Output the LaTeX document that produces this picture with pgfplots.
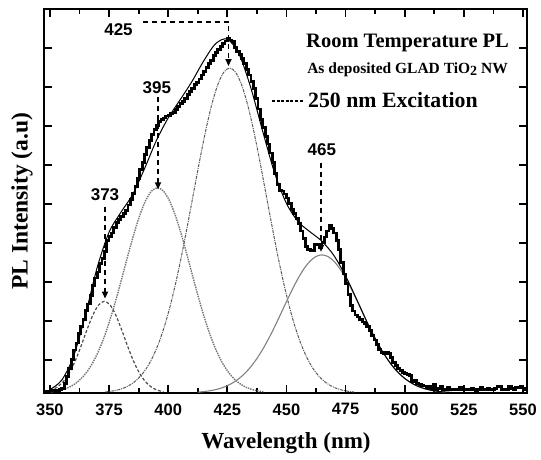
\documentclass[border=0pt]{standalone}
\usepackage{fontspec}
\setmainfont{Liberation Serif}
\setsansfont{Liberation Sans}
\usepackage{pgfplots}
\pgfplotsset{compat=1.18}
\usetikzlibrary{arrows.meta}

\begin{document}
\begin{tikzpicture}
\begin{axis}[
  scale only axis, width=483pt, height=383.5pt,
  xmin=347.5, xmax=551.7, ymin=0, ymax=9.83,
  xtick={350,375,400,425,450,475,500,525,550}, minor x tick num=1,
  ytick={0.85,1.85,2.85,3.85,4.85,5.85,6.85,7.85,8.85}, yticklabels={},
  tick align=inside, major tick length=8pt, minor tick length=5pt,
  axis line style={line width=2pt},
  tick style={line width=1.8pt, black},
  xticklabel style={font=\sffamily\bfseries\fontsize{16.5}{16.5}\selectfont, yshift=-7pt},
  /pgf/number format/assume math mode=true,
  /pgf/number format/1000 sep={},
  xlabel={\fontsize{23}{23}\selectfont\bfseries Wavelength (nm)},
  xlabel style={at={([yshift=-50pt]axis description cs:0.501,0)}, anchor=center},
  ylabel={\fontsize{23.5}{23.5}\selectfont\bfseries PL Intensity (a.u)},
  ylabel style={at={([xshift=-22pt]axis description cs:0,0.5)}, anchor=center},
]
% G1 373
\addplot[densely dashed, black!70, line width=1.2pt, smooth] coordinates {
(348,0.031)(350.5,0.071)(353,0.148)(355.5,0.282)(358,0.495)(360.5,0.797)(363,1.176)(365.5,1.593)(368,1.977)(370.5,2.251)(373,2.35)(375.5,2.251)(378,1.977)(380.5,1.593)(383,1.176)(385.5,0.797)(388,0.495)(390.5,0.282)(393,0.148)(395.5,0.071)(398,0.031)};
% G2 395
\addplot[densely dotted, black!55, line width=1.4pt, smooth] coordinates {
(350.5,0.030)(353,0.052)(355.5,0.089)(358,0.146)(360.5,0.231)(363,0.356)(365.5,0.530)(368,0.764)(370.5,1.068)(373,1.446)(375.5,1.896)(378,2.408)(380.5,2.963)(383,3.531)(385.5,4.076)(388,4.557)(390.5,4.935)(393,5.177)(395.5,5.26)(398,5.177)(400.5,4.935)(403,4.557)(405.5,4.076)(408,3.531)(410.5,2.963)(413,2.408)(415.5,1.896)(418,1.446)(420.5,1.068)(423,0.764)(425.5,0.530)(428,0.356)(430.5,0.231)(433,0.146)(435.5,0.089)(438,0.052)(440.5,0.030)};
% G3 425
\addplot[dash pattern=on 3pt off 1pt on 1pt off 1pt, black!65, line width=1pt, smooth] coordinates {
(373.5,0.027)(376,0.046)(378.5,0.076)(381,0.123)(383.5,0.194)(386,0.298)(388.5,0.446)(391,0.651)(393.5,0.925)(396,1.280)(398.5,1.726)(401,2.268)(403.5,2.905)(406,3.623)(408.5,4.404)(411,5.215)(413.5,6.018)(416,6.765)(418.5,7.410)(421,7.908)(423.5,8.222)(426,8.33)(428.5,8.222)(431,7.908)(433.5,7.410)(436,6.765)(438.5,6.018)(441,5.215)(443.5,4.404)(446,3.623)(448.5,2.905)(451,2.268)(453.5,1.726)(456,1.280)(458.5,0.925)(461,0.651)(463.5,0.446)(466,0.298)(468.5,0.194)(471,0.123)(473.5,0.076)(476,0.046)(478.5,0.027)};
% G4 465
\addplot[black!50, line width=1.1pt, smooth] coordinates {
(412.5,0.022)(415,0.036)(417.5,0.056)(420,0.086)(422.5,0.128)(425,0.188)(427.5,0.268)(430,0.373)(432.5,0.509)(435,0.678)(437.5,0.883)(440,1.123)(442.5,1.397)(445,1.698)(447.5,2.017)(450,2.342)(452.5,2.657)(455,2.946)(457.5,3.193)(460,3.381)(462.5,3.500)(465,3.54)(467.5,3.500)(470,3.381)(472.5,3.193)(475,2.946)(477.5,2.657)(480,2.342)(482.5,2.017)(485,1.698)(487.5,1.397)(490,1.123)(492.5,0.883)(495,0.678)(497.5,0.509)(500,0.373)(502.5,0.268)(505,0.188)(507.5,0.128)(510,0.086)(512.5,0.056)(515,0.036)(517.5,0.022)};
% cumulative fit
\addplot[black, line width=1pt, smooth] coordinates {
(350,0.087)(355,0.33)(360,0.94)(365,2.00)(370,3.22)(375,4.12)(380,4.63)(385,5.09)(390,5.75)(395,6.47)(400,7.05)(405,7.51)(410,7.98)(415,8.51)(420,8.95)(425,9.07)(430,8.68)(435,7.81)(440,6.70)(445,5.64)(450,4.86)(455,4.39)(460,4.13)(465,3.89)(470,3.53)(475,3.00)(480,2.36)(485,1.70)(490,1.123)(495,0.678)(500,0.373)(505,0.188)(510,0.086)(515,0.036)(520,0.015)};
% measured spectrum
\addplot[black, line width=2.8pt, const plot] coordinates {
(347,0.04)(348,0.05)(349,0.03)(350,0.06)(351,0.05)(352,0.07)(353,0.05)(354,0.08)(355,0.12)(356,0.25)(357,0.42)(358,0.62)(359,0.85)(360,1.10)(361,1.28)(362,1.52)(363,1.70)(364,1.88)(365,2.12)(366,2.28)(367,2.50)(368,2.75)(369,2.95)(370,3.10)(371,3.32)(372,3.45)(373,3.62)(374,3.90)(375,4.02)(376,4.10)(377,4.25)(378,4.38)(379,4.45)(380,4.52)(381,4.60)(382,4.68)(383,4.82)(384,4.95)(385,5.12)(386,5.30)(387,5.50)(388,5.72)(389,5.90)(390,6.12)(391,6.30)(392,6.48)(393,6.62)(394,6.75)(395,6.85)(396,6.95)(397,7.02)(398,7.05)(399,7.10)(400,7.12)(401,7.16)(402,7.20)(403,7.26)(404,7.35)(405,7.42)(406,7.48)(407,7.55)(408,7.65)(409,7.72)(410,7.80)(411,7.90)(412,7.96)(413,8.05)(414,8.15)(415,8.25)(416,8.35)(417,8.45)(418,8.52)(419,8.65)(420,8.72)(421,8.80)(422,8.88)(423,8.95)(424,9.02)(425,9.08)(426,9.05)(427,9.00)(428,8.85)(429,8.75)(430,8.68)(431,8.58)(432,8.45)(433,8.30)(434,8.15)(435,7.98)(436,7.80)(437,7.55)(438,7.28)(439,7.02)(440,6.80)(441,6.58)(442,6.38)(443,6.15)(444,5.90)(445,5.62)(446,5.35)(447,5.20)(448,5.18)(449,5.10)(450,5.00)(451,4.85)(452,4.70)(453,4.60)(454,4.48)(455,4.35)(456,4.15)(457,3.95)(458,3.75)(459,3.67)(460,3.66)(461,3.65)(462,3.80)(463,3.82)(464,3.72)(465,3.85)(466,4.00)(467,4.15)(468,4.30)(469,4.22)(470,4.10)(471,3.90)(472,3.67)(473,3.35)(474,3.05)(475,2.80)(476,2.52)(477,2.25)(478,2.10)(479,2.00)(480,1.95)(481,1.88)(482,1.82)(483,1.78)(484,1.70)(485,1.60)(486,1.48)(487,1.36)(488,1.25)(489,1.12)(490,1.04)(491,1.02)(492,1.05)(493,1.02)(494,0.90)(495,0.78)(496,0.70)(497,0.62)(498,0.58)(499,0.52)(500,0.50)(501,0.48)(502,0.45)(503,0.30)(504,0.33)(505,0.25)(506,0.22)(507,0.20)(508,0.18)(509,0.14)(510,0.16)(511,0.12)(512,0.22)(513,0.10)(514,0.12)(515,0.18)(516,0.10)(517,0.09)(518,0.14)(519,0.10)(520,0.08)(521,0.10)(522,0.09)(523,0.15)(524,0.08)(525,0.09)(526,0.10)(527,0.08)(528,0.12)(529,0.09)(530,0.07)(531,0.09)(532,0.14)(533,0.08)(534,0.10)(535,0.12)(536,0.09)(537,0.08)(538,0.11)(539,0.16)(540,0.16)(541,0.10)(542,0.09)(543,0.10)(544,0.16)(545,0.12)(546,0.10)(547,0.15)(548,0.14)(549,0.18)(550,0.10)(551,0.12)(552,0.15)};

% annotations
\draw[line width=1.6pt, dash pattern=on 5pt off 4pt, -{Triangle[length=7pt,width=6pt]}] (axis cs:389.3,9.51) -- (axis cs:425.5,9.51) -- (axis cs:425.5,8.38);
\node[font=\sffamily\bfseries\fontsize{17}{17}\selectfont] at (axis cs:379.0,9.31) {425};
\draw[line width=1.6pt, dash pattern=on 5pt off 4pt, -{Triangle[length=7pt,width=6pt]}] (axis cs:395.7,7.59) -- (axis cs:395.7,5.22);
\node[font=\sffamily\bfseries\fontsize{17}{17}\selectfont] at (axis cs:395.2,7.82) {395};
\draw[line width=1.6pt, dash pattern=on 5pt off 4pt, -{Triangle[length=7pt,width=6pt]}] (axis cs:373.3,4.77) -- (axis cs:373.3,2.42);
\node[font=\sffamily\bfseries\fontsize{17}{17}\selectfont] at (axis cs:373.3,5.08) {373};
\draw[line width=1.6pt, dash pattern=on 5pt off 4pt, -{Triangle[length=7pt,width=6pt]}] (axis cs:464.6,5.90) -- (axis cs:464.6,3.62);
\node[font=\sffamily\bfseries\fontsize{17}{17}\selectfont] at (axis cs:465.0,6.23) {465};

\node[anchor=base, font=\bfseries\fontsize{20.5}{20.5}\selectfont] at (axis cs:501.2,8.85) {Room Temperature PL};
\node[anchor=base, font=\bfseries\fontsize{15.5}{15.5}\selectfont] at (axis cs:501.2,8.20) {As deposited GLAD TiO\raisebox{-0.35ex}{\fontsize{14}{14}\selectfont 2} NW};
\draw[line width=1.5pt, dash pattern=on 3pt off 1.6pt] (axis cs:443.9,7.48) -- (axis cs:457.4,7.48);
\node[anchor=base west, inner sep=0pt, font=\bfseries\fontsize{21.8}{21.8}\selectfont] at (axis cs:459.1,7.31) {250 nm Excitation};

\coordinate (bl) at (rel axis cs:0,0);
\coordinate (tr) at (rel axis cs:1,1);
\end{axis}
\path (bl) +(-44pt,-66pt);
\path (tr) +(14pt,9.5pt);
\end{tikzpicture}
\end{document}
